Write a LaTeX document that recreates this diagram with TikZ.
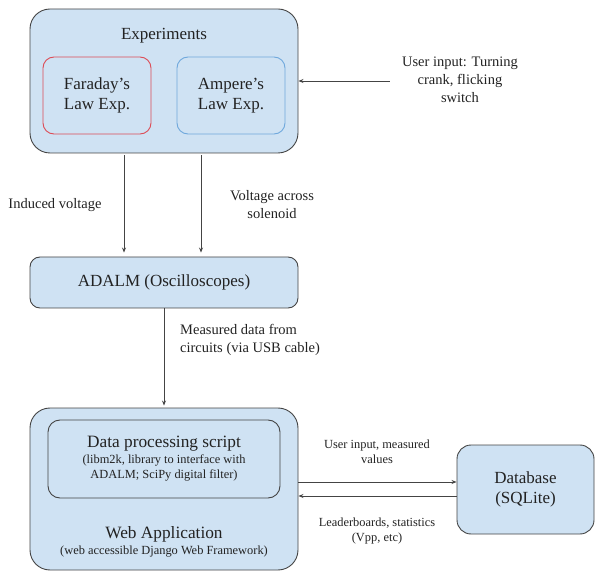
\documentclass[tikz,border=0pt]{standalone}
\usepackage{fontspec}
\setmainfont{Liberation Serif}
\usetikzlibrary{arrows.meta,calc}
\definecolor{boxfill}{HTML}{CFE2F3}
\definecolor{boxline}{HTML}{444444}
\definecolor{redline}{HTML}{DD4B55}
\definecolor{blueline}{HTML}{6FA8DC}
\definecolor{txt}{HTML}{222222}
\begin{document}
\begin{tikzpicture}[x=1pt,y=-1pt,
  box/.style={draw=boxline,fill=boxfill,line width=0.9pt,rounded corners=#1,inner sep=0pt,align=center,text=txt,font=\fontsize{17}{20}\selectfont},
  box/.default=10pt,
  lbl/.style={align=center,text=txt,inner sep=0pt,font=\fontsize{14.5}{18}\selectfont},
  arr/.style={draw=boxline,line width=0.8pt,-{Stealth[length=5pt,width=4pt]}}]
\useasboundingbox (0,0) rectangle (595,572);
% Experiments
\node[box=20pt,minimum width=268pt,minimum height=144pt] (exp) at (164,81) {};
\node[text=txt,font=\fontsize{17}{20}\selectfont] (exptitle) at (164,36) {Experiments};
\node[box=11pt,draw=redline,minimum width=108pt,minimum height=77pt] (far) at (97,95.5) {Faraday’s\\Law Exp.};
\node[box=11pt,draw=blueline,minimum width=108pt,minimum height=77pt] (amp) at (231,95.5) {Ampere’s\\Law Exp.};
% user input
\node[lbl] (user) at (460,80) {User input: Turning\\crank, flicking\\switch};
\draw[arr] ($(user.west)+(-12,1)$) -- ($(exp.east |- user.west)+(0,1)$);
% ADALM
\node[box=10pt,minimum width=268pt,minimum height=51pt] (adalm) at (164,282.5) {ADALM (Oscilloscopes)};
\coordinate (xf) at (124,0);
\coordinate (xa) at (201,0);
\draw[arr,shorten <=2pt,shorten >=4pt] (exp.south -| xf) -- (adalm.north -| xf);
\draw[arr,shorten <=2pt,shorten >=4pt] (exp.south -| xa) -- (adalm.north -| xa);
\node[lbl] (induced) at (55,205) {Induced voltage};
\node[lbl] (across) at (272,205) {Voltage across\\solenoid};
% Web application
\node[box=20pt,minimum width=268pt,minimum height=162pt] (web) at (164,489) {};
\node[box=12pt,minimum width=232pt,minimum height=78pt,font=\fontsize{12.4}{15}\selectfont] (data) at (164,459)
  {{\fontsize{17.3}{20}\selectfont Data processing script}\\[1pt](libm2k, library to interface with\\ADALM; SciPy digital filter)};
\node[align=center,text=txt,inner sep=0pt,font=\fontsize{12.4}{15}\selectfont] (webtitle) at (164,542)
  {{\fontsize{17.3}{20}\selectfont Web Application}\\[1pt](web accessible Django Web Framework)};
\draw[arr,shorten >=2pt] (adalm.south) -- (web.north);
\node[lbl,anchor=west,align=left] (meas) at (180,340) {Measured data from\\circuits (via USB cable)};
% Database
\node[box=14pt,minimum width=137pt,minimum height=89pt] (db) at (525.5,489.5) {Database\\(SQLite)};
\coordinate (yu) at (0,482);
\coordinate (yl) at (0,496);
\draw[arr] (web.east |- yu) -- (db.west |- yu);
\draw[arr] (db.west |- yl) -- (web.east |- yl);
\node[lbl,font=\fontsize{12.4}{15}\selectfont] (uim) at (377,452) {User input, measured\\values};
\node[lbl,font=\fontsize{12.4}{15}\selectfont] (lead) at (377,531) {Leaderboards, statistics\\(Vpp, etc)};
\end{tikzpicture}
\end{document}
